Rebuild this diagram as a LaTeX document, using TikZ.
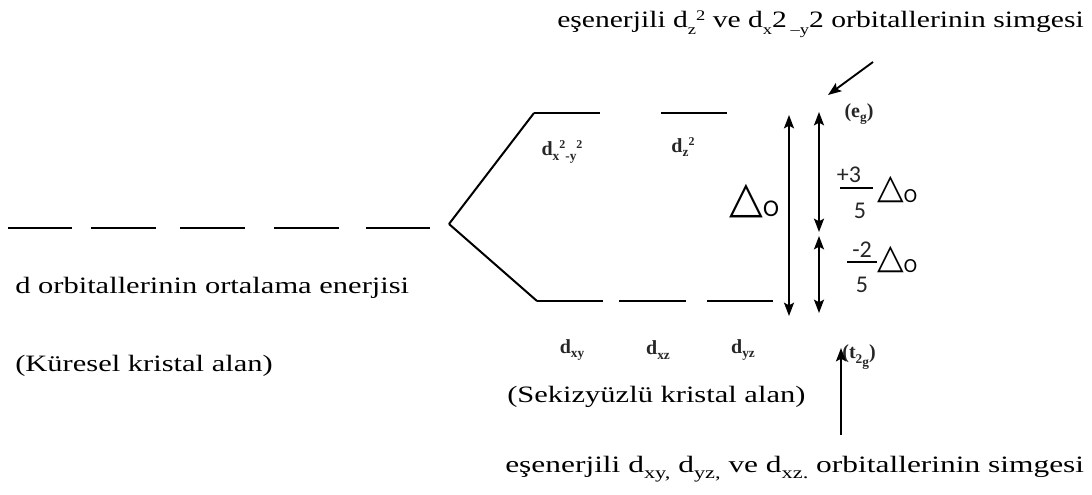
\documentclass[tikz,border=0pt]{standalone}
\usepackage{fontspec}
\setmainfont{Liberation Serif}[FakeStretch=1.3]
\newfontfamily\lblfont{Liberation Serif}
\newfontfamily\symfont{DejaVu Sans}
\newfontfamily\calfont{Carlito}
\usetikzlibrary{arrows.meta}
\newcommand\lowsub[1]{\raisebox{-0.6ex}{\fontsize{11}{11}\selectfont #1}}
\newcommand\botsub[1]{\raisebox{-0.6ex}{\fontsize{12.5}{12.5}\selectfont #1}}
\newcommand\hisup[1]{\raisebox{0.7ex}{\fontsize{11}{11}\selectfont #1}}
\newcommand\lsub[1]{\raisebox{-0.5ex}{\fontsize{10}{10}\selectfont #1}}
\newcommand\lsup[1]{\raisebox{0.8ex}{\fontsize{9}{9}\selectfont #1}}
\newcommand\bigdelta{{\symfont\fontsize{33}{33}\selectfont △}\raisebox{-0.5ex}{\calfont\fontsize{18}{18}\selectfont O}}
\newcommand\smalldelta{{\symfont\fontsize{26}{26}\selectfont △}\raisebox{-0.5ex}{\calfont\fontsize{15}{15}\selectfont O}}
\tikzset{
  level/.style={line width=1.6pt, line cap=butt},
  branch/.style={line width=1.5pt},
  dbl/.style={line width=1.4pt, {Stealth[length=10pt,width=7.5pt,inset=2pt]}-{Stealth[length=10pt,width=7.5pt,inset=2pt]}},
  pointer/.style={line width=1.4pt, -{Stealth[length=10pt,width=7.5pt,inset=2pt]}},
  txt/.style={inner sep=0pt, anchor=base west, font=\fontsize{17.6}{20}\selectfont},
  lbl/.style={inner sep=0pt, font=\lblfont\fontsize{15}{15}\selectfont\bfseries, text=black!85},
  frac/.style={inner sep=0pt, font=\calfont\fontsize{18}{18}\selectfont, text=black!85},
}
\begin{document}
\begin{tikzpicture}[x=0.75pt,y=-0.75pt]
\useasboundingbox (0,0) rectangle (1092,495);
% spherical field levels
\draw[level] (8,228) -- (72,228);
\draw[level] (91,228) -- (156,228);
\draw[level] (180,228) -- (245,228);
\draw[level] (274,228) -- (339,228);
\draw[level] (366,228) -- (430,228);
% splitting
\coordinate (ap) at (449,224);
\draw[branch] (ap) -- (534,113);
\draw[level] (534,113) -- (600,113);
\draw[level] (661,113) -- (727,113);
\draw[branch] (ap) -- (537,301);
\draw[level] (537,301) -- (603,301);
\draw[level] (619,301) -- (686,301);
\draw[level] (707,301) -- (773,301);
% vertical arrows
\coordinate (bt) at (789,115); \coordinate (bb) at (789,316);
\draw[dbl] (bt) -- (bb);
\coordinate (ut) at (819,112); \coordinate (ub) at (819,232);
\draw[dbl] (ut) -- (ub);
\coordinate (lt) at (819,236); \coordinate (lb) at (819,313);
\draw[dbl] (lt) -- (lb);
% delta labels
\node[inner sep=0pt, anchor=base west] (DO) at (729,213) {\bigdelta};
\node[frac] (p3) at (849,175) {+3};
\draw[line width=1.1pt] (840,188) -- (873,188);
\node[frac] (f5a) at (860,211) {5};
\node[inner sep=0pt, anchor=base west] (D1) at (877,199) {\smalldelta};
\node[frac] (m2) at (862,250) {-2};
\draw[line width=1.1pt] (847,262) -- (877,262);
\node[frac] (f5b) at (862,285) {5};
\node[inner sep=0pt, anchor=base west] (D2) at (877,269) {\smalldelta};
% orbital labels
\node[lbl] (dx2y2) at (562,152) {d\lsub{x}\lsup{2}\lsub{-y}\lsup{2}};
\node[lbl] (dz2) at (683,147) {d\lsub{z}\lsup{2}};
\node[lbl] (dxy) at (572,350) {d\lsub{xy}};
\node[lbl] (dxz) at (658,350) {d\lsub{xz}};
\node[lbl] (dyz) at (743,350) {d\lsub{yz}};
\node[lbl] (eg) at (859,114) {(e\lsub{g})};
\node[lbl] (t2g) at (859,357) {(t\lsub{2\lsub{g}})};
% texts
\node[txt] (top) at (557,28) {\scalebox{0.97}[1]{eşenerjili d\lowsub{z}\hisup{2} ve d\lowsub{x}2\,\lowsub{–y}2\ orbitallerinin simgesi}};
\node[txt] (avg) at (15,293) {d orbitallerinin ortalama enerjisi};
\node[txt] (sph) at (15,371) {(Küresel kristal alan)};
\node[txt] (oct) at (507,402) {(Sekizyüzlü kristal alan)};
\node[txt] (bot) at (505,472) {\scalebox{1.03}[1]{eşenerjili d\botsub{xy,} d\botsub{yz,} ve d\botsub{xz.} orbitallerinin simgesi}};
% pointers
\coordinate (pt) at (873,62); \coordinate (pe) at (828,95);
\draw[pointer] (pt) -- (pe);
\coordinate (pb) at (841,435); \coordinate (pf) at (841,348);
\draw[pointer] (pb) -- (pf);
\end{tikzpicture}
\end{document}
